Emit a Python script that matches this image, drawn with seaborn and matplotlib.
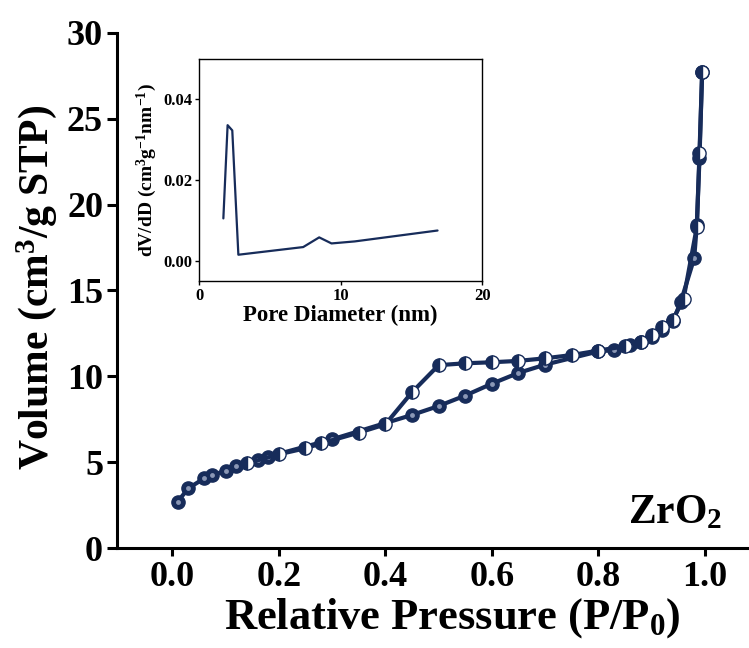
import matplotlib
matplotlib.use("Agg")
import matplotlib.pyplot as plt
import seaborn as sns
import pandas as pd

# ---- data ----
p_ads = [0.01, 0.03, 0.06, 0.075, 0.10, 0.12, 0.16, 0.18, 0.30, 0.45, 0.50, 0.55,
         0.60, 0.65, 0.70, 0.80, 0.83, 0.86, 0.88, 0.90, 0.92, 0.94, 0.955, 0.98,
         0.985, 0.99, 0.995]
v_ads = [2.70, 3.48, 4.06, 4.25, 4.50, 4.78, 5.12, 5.32, 6.33, 7.75, 8.27, 8.88,
         9.57, 10.20, 10.68, 11.45, 11.53, 11.80, 12.00, 12.30, 12.70, 13.20, 14.35,
         16.87, 18.80, 22.70, 27.70]

p_des = [0.995, 0.99, 0.985, 0.96, 0.94, 0.92, 0.90, 0.88, 0.85, 0.80, 0.75, 0.70,
         0.65, 0.60, 0.55, 0.50, 0.45, 0.40, 0.35, 0.28, 0.25, 0.20, 0.14]
v_des = [27.70, 23.00, 18.70, 14.50, 13.30, 12.90, 12.40, 12.00, 11.75, 11.50,
         11.24, 11.05, 10.90, 10.82, 10.76, 10.65, 9.07, 7.20, 6.72, 6.10, 5.81,
         5.46, 4.93]

pore_d = [1.72, 2.02, 2.35, 2.78, 7.36, 8.49, 9.36, 11.0, 16.85]
dvdd = [0.0105, 0.0336, 0.0323, 0.0015, 0.0034, 0.0058, 0.0043, 0.0048, 0.0075]

x_ticks = [0.0, 0.2, 0.4, 0.6, 0.8, 1.0]
y_ticks = [0, 5, 10, 15, 20, 25, 30]
inset_xticks = [0, 10, 20]
inset_yticks = [0.00, 0.02, 0.04]

NAVY = "#172c5a"

sns.set_style("ticks")
plt.rcParams["font.family"] = ["Liberation Serif", "DejaVu Serif"]
plt.rcParams["font.weight"] = "bold"
plt.rcParams["text.color"] = "black"
plt.rcParams["axes.labelcolor"] = "black"
plt.rcParams["xtick.color"] = "black"
plt.rcParams["ytick.color"] = "black"
plt.rcParams["axes.edgecolor"] = "black"
plt.rcParams["mathtext.fontset"] = "custom"
plt.rcParams["mathtext.rm"] = "Liberation Serif:bold"
plt.rcParams["mathtext.it"] = "Liberation Serif:bold"
plt.rcParams["mathtext.bf"] = "Liberation Serif:bold"

fig = plt.figure(figsize=(7.49, 6.48), dpi=100)
ax = fig.add_axes([0.1562, 0.1543, 0.8438, 0.7948])

df_ads = pd.DataFrame({"p": p_ads, "v": v_ads})
df_des = pd.DataFrame({"p": p_des, "v": v_des})

sns.lineplot(data=df_ads, x="p", y="v", sort=False, estimator=None, ax=ax,
             color=NAVY, lw=3.0, marker="o", markersize=9.5,
             markerfacecolor=NAVY, markeredgecolor=NAVY, markeredgewidth=1.0, zorder=3)
ax.plot(df_ads["p"], df_ads["v"], ls="none", marker="o", markersize=3.5,
        markerfacecolor="#8a97b5", markeredgecolor="none", zorder=4)
sns.lineplot(data=df_des, x="p", y="v", sort=False, estimator=None, ax=ax,
             color=NAVY, lw=3.0, marker="o", markersize=9.5, fillstyle="left",
             markerfacecolor=NAVY, markerfacecoloralt="white",
             markeredgecolor=NAVY, markeredgewidth=1.0, zorder=5)

ax.set_xlim(-0.104, 1.083)
ax.set_ylim(0, 30)
ax.set_xticks(x_ticks)
ax.set_xticklabels([f"{t:.1f}" for t in x_ticks])
ax.set_yticks(y_ticks)
ax.set_yticklabels([str(t) for t in y_ticks])
ax.tick_params(axis="both", labelsize=26, width=2.2, direction="out", colors="black")
ax.tick_params(axis="y", length=7, pad=3)
ax.tick_params(axis="x", length=6, pad=3)
for lab in ax.get_xticklabels() + ax.get_yticklabels():
    lab.set_fontweight("bold")
sns.despine(ax=ax)
for s in ["left", "bottom"]:
    ax.spines[s].set_linewidth(2.2)
    ax.spines[s].set_color("black")
ax.set_xlabel("Relative Pressure (P/P$_0$)", fontsize=32, fontweight="bold")
ax.xaxis.set_label_coords(0.53, -0.094)
ax.set_ylabel("Volume (cm$^3$/g STP)", fontsize=30, fontweight="bold", va="center")
ax.yaxis.set_label_coords(-0.128, 0.505)
ax.text(0.957, 0.031, "ZrO$_2$", transform=ax.transAxes, fontsize=30,
        fontweight="bold", ha="right", va="bottom")

# ---- inset ----
ins = fig.add_axes([0.2657, 0.5664, 0.378, 0.3426])
sns.lineplot(x=pore_d, y=dvdd, sort=False, estimator=None, ax=ins, color=NAVY, lw=1.6)
ins.set_xlim(0, 20)
ins.set_ylim(-0.005, 0.05)
ins.set_xticks(inset_xticks)
ins.set_yticks(inset_yticks)
ins.set_xticklabels([str(t) for t in inset_xticks])
ins.set_yticklabels([f"{t:.2f}" for t in inset_yticks])
ins.tick_params(axis="both", labelsize=12, width=1, length=3, direction="out", pad=2,
                colors="black")
for lab in ins.get_xticklabels() + ins.get_yticklabels():
    lab.set_fontweight("bold")
for s in ins.spines.values():
    s.set_linewidth(1.0)
    s.set_color("black")
ins.set_xlabel("Pore Diameter (nm)", fontsize=16.5, fontweight="bold", labelpad=1)
ins.set_ylabel("dV/dD (cm$^3$g$^{-1}$nm$^{-1}$)", fontsize=14, fontweight="bold", labelpad=3)

fig.savefig("out.png", dpi=100)
